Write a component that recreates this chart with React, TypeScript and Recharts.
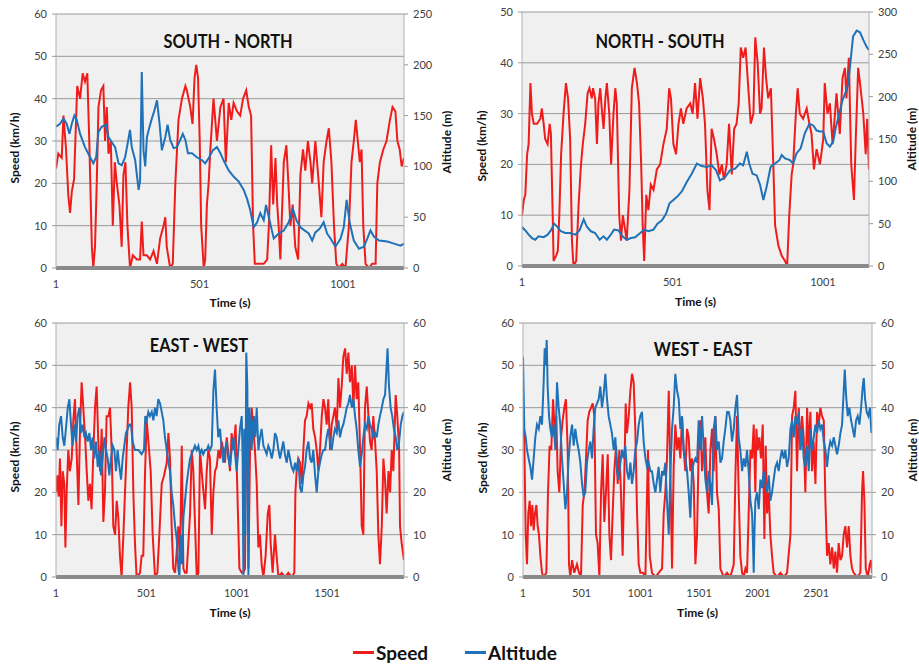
import React from 'react';
import { LineChart, Line, XAxis, YAxis, CartesianGrid } from 'recharts';

// ---------------- DATA (time in s, value) ----------------
const SN_SPEED: [number, number][] = [
[1,23.5],[9,27],[21,26],[27,36],[36,28],[44,17],[50,13],[56,18],[64,21],[71,35],[75,43],[85,40],[94,46],[102,44],[110,46],[117,30],[126,5],[131,0],[137,5],[143,20],[149,38],[158,42],[166,43],[172,30],[178,38],[184,27],[192,30],[199,10],[206,25],[213,20],[222,15],[230,5],[236,22],[243,25],[250,10],[259,0],[269,3],[283,2],[294,2],[300,11],[306,3],[318,3],[329,2],[341,4],[353,1],[364,7],[376,10],[382,12],[387,5],[399,0],[408,1],[417,20],[428,35],[440,40],[452,43],[457,42],[469,38],[477,34],[484,45],[490,48],[496,45],[502,30],[507,10],[516,0],[521,2],[527,15],[533,20],[539,28],[550,40],[562,30],[574,38],[585,40],[593,25],[603,39],[612,35],[620,39],[632,37],[643,36],[653,40],[664,42],[673,38],[681,36],[688,10],[694,1],[708,1],[725,1],[737,2],[743,10],[751,29],[758,15],[766,26],[772,15],[777,10],[783,2],[795,25],[804,29],[811,20],[818,10],[826,15],[835,5],[845,2],[853,22],[862,28],[870,23],[879,30],[888,25],[894,20],[905,30],[917,20],[926,12],[934,25],[944,30],[952,33],[961,25],[970,10],[978,1],[987,0],[999,1],[1010,0],[1022,10],[1031,25],[1039,30],[1046,35],[1053,30],[1060,25],[1066,28],[1072,10],[1080,1],[1092,0],[1103,1],[1115,1],[1121,20],[1130,25],[1142,28],[1153,30],[1165,35],[1174,38],[1184,37],[1191,30],[1199,28],[1206,24],[1214,26]
];
const SN_ALT: [number, number][] = [
[1,139],[15,142],[27,147],[38,142],[48,132],[56,142],[65,150],[73,146],[85,132],[102,119],[120,109],[131,103],[141,109],[149,134],[160,139],[176,141],[184,129],[195,124],[207,119],[219,103],[230,101],[242,109],[251,123],[259,136],[265,119],[277,106],[289,77],[294,86],[300,193],[306,116],[312,100],[318,129],[327,139],[335,147],[344,155],[353,165],[362,142],[370,116],[382,129],[390,141],[399,126],[411,118],[422,119],[434,126],[443,132],[452,126],[461,113],[475,113],[492,109],[510,106],[521,103],[533,108],[548,116],[562,119],[574,113],[585,106],[603,96],[620,90],[638,85],[655,77],[667,68],[678,57],[690,40],[702,45],[713,54],[725,47],[733,62],[743,50],[751,40],[760,29],[777,34],[795,37],[812,45],[827,58],[839,47],[853,40],[867,37],[882,34],[894,27],[905,35],[921,39],[934,45],[946,34],[958,29],[975,21],[993,29],[1004,40],[1014,67],[1025,44],[1039,27],[1057,19],[1074,21],[1086,29],[1097,37],[1109,31],[1127,27],[1156,26],[1179,24],[1202,22],[1214,24]
];
const NS_SPEED: [number, number][] = [
[1,10],[7,13],[12,14],[18,22],[23,24],[29,36],[34,30],[40,28],[51,28],[62,29],[67,31],[73,28],[78,25],[86,24],[93,28],[97,26],[103,10],[106,1],[114,2],[120,3],[125,10],[131,22],[139,30],[147,36],[154,33],[161,25],[167,5],[172,0],[181,1],[189,12],[197,20],[203,24],[211,28],[219,34],[225,35],[233,33],[237,35],[244,33],[250,24],[255,32],[261,35],[266,31],[272,27],[278,33],[283,36],[291,30],[297,20],[305,30],[311,35],[316,32],[324,10],[330,5],[336,10],[344,7],[349,5],[358,15],[366,35],[375,39],[383,36],[390,32],[397,20],[402,8],[407,1],[414,14],[421,11],[429,16],[438,15],[449,19],[460,20],[471,24],[482,27],[490,35],[496,33],[504,24],[513,22],[521,28],[529,31],[537,28],[548,31],[560,32],[568,30],[576,36],[584,29],[593,37],[602,33],[609,28],[617,15],[624,11],[631,27],[639,25],[648,22],[657,18],[665,20],[672,17],[681,20],[689,28],[698,18],[706,27],[714,28],[721,32],[728,43],[736,41],[744,43],[753,35],[761,28],[770,30],[776,45],[784,40],[792,30],[797,31],[805,43],[812,37],[819,33],[828,35],[836,20],[842,8],[853,4],[864,2],[875,1],[882,0],[889,10],[897,18],[902,20],[911,30],[917,35],[924,30],[935,29],[947,31],[956,28],[963,26],[971,19],[980,23],[991,20],[1002,25],[1007,36],[1016,30],[1024,32],[1033,24],[1041,30],[1046,34],[1057,26],[1066,37],[1074,39],[1079,33],[1087,41],[1095,20],[1104,13],[1110,25],[1118,39],[1126,35],[1135,30],[1143,22],[1148,29],[1154,19]
];
const NS_ALT: [number, number][] = [
[1,46],[12,42],[23,37],[34,33],[45,31],[56,35],[73,34],[86,37],[97,42],[108,50],[119,46],[130,41],[145,39],[161,39],[178,37],[192,42],[206,55],[217,46],[230,41],[244,39],[259,31],[272,35],[283,31],[296,37],[307,43],[322,42],[335,35],[349,31],[363,33],[377,34],[394,39],[407,43],[421,41],[438,43],[451,50],[466,54],[480,62],[491,74],[504,78],[517,82],[532,88],[548,99],[565,109],[582,121],[598,118],[615,117],[631,119],[646,113],[659,101],[676,105],[692,113],[709,115],[725,121],[736,119],[748,135],[756,121],[767,109],[781,107],[792,96],[803,78],[814,94],[827,117],[842,121],[856,125],[864,131],[875,127],[891,125],[902,121],[913,133],[927,139],[941,157],[956,168],[969,166],[980,160],[991,159],[1002,159],[1013,145],[1024,141],[1035,147],[1044,164],[1055,180],[1066,196],[1077,206],[1085,215],[1093,243],[1101,271],[1113,278],[1124,276],[1135,267],[1146,259],[1154,255]
];
const EW_SPEED: [number, number][] = [
[1,20],[8,24],[16,19],[23,28],[31,12],[38,25],[47,22],[53,7],[60,20],[69,30],[78,25],[88,28],[97,37],[106,42],[115,30],[125,17],[134,35],[143,46],[152,40],[162,33],[171,25],[180,18],[189,22],[198,16],[208,30],[217,40],[226,45],[235,32],[245,25],[254,35],[263,13],[272,20],[281,38],[291,38],[300,40],[309,30],[318,12],[328,10],[337,18],[346,14],[355,5],[364,0],[374,10],[383,20],[392,30],[401,40],[411,46],[420,40],[429,20],[438,8],[447,0],[466,1],[475,5],[484,5],[494,25],[503,37],[516,30],[525,25],[536,10],[549,0],[562,1],[573,10],[586,22],[599,24],[614,27],[623,34],[632,28],[641,12],[650,2],[660,1],[669,6],[678,12],[687,3],[697,31],[706,2],[715,1],[724,1],[743,15],[752,30],[761,25],[770,13],[780,0],[789,1],[798,30],[813,22],[826,16],[835,25],[844,30],[853,28],[863,10],[872,20],[881,25],[890,26],[900,30],[909,28],[918,32],[927,30],[936,27],[946,33],[964,25],[973,34],[983,30],[995,36],[1005,20],[1016,2],[1029,1],[1038,1],[1047,2],[1053,40],[1060,35],[1066,2],[1075,30],[1084,40],[1093,35],[1102,30],[1112,22],[1121,7],[1130,10],[1139,3],[1149,0],[1161,5],[1173,15],[1182,17],[1189,8],[1200,1],[1213,10],[1222,5],[1232,0],[1250,1],[1268,0],[1287,1],[1305,0],[1320,1],[1326,20],[1333,25],[1342,28],[1352,27],[1361,22],[1370,30],[1379,37],[1388,38],[1398,41],[1407,40],[1416,41],[1425,35],[1435,33],[1444,30],[1453,25],[1462,30],[1472,38],[1481,42],[1490,40],[1499,36],[1508,42],[1518,30],[1527,36],[1536,38],[1545,40],[1555,35],[1564,47],[1573,40],[1582,45],[1591,52],[1601,54],[1610,48],[1619,53],[1628,46],[1638,50],[1647,40],[1656,50],[1665,42],[1674,46],[1684,30],[1693,12],[1702,10],[1711,40],[1721,45],[1730,38],[1739,32],[1748,30],[1757,38],[1767,32],[1776,25],[1785,10],[1794,3],[1804,12],[1813,28],[1822,23],[1831,15],[1841,25],[1850,20],[1859,30],[1868,25],[1881,43],[1890,38],[1900,30],[1905,12],[1914,8],[1927,4]
];
const EW_ALT: [number, number][] = [
[1,33],[10,30],[19,36],[29,38],[38,33],[47,31],[56,35],[66,40],[75,42],[84,36],[93,31],[102,36],[112,32],[121,38],[130,40],[139,34],[149,36],[158,33],[167,34],[176,32],[186,34],[195,30],[204,33],[213,28],[222,32],[232,26],[241,30],[250,24],[259,28],[269,33],[278,30],[287,28],[296,24],[305,28],[315,31],[324,30],[333,25],[342,30],[352,26],[361,23],[370,28],[379,31],[388,34],[398,35],[407,36],[416,36],[425,32],[438,30],[457,30],[475,29],[488,30],[495,38],[503,37],[512,39],[521,38],[531,39],[540,37],[549,40],[558,38],[567,42],[577,41],[586,39],[595,37],[604,33],[614,30],[623,27],[632,25],[641,20],[650,17],[660,12],[669,9],[678,2],[684,0],[691,10],[698,3],[706,14],[715,18],[724,22],[733,25],[743,28],[752,29],[761,30],[770,31],[780,30],[789,31],[798,29],[807,30],[816,29],[826,30],[835,30],[844,31],[853,30],[863,31],[872,44],[881,49],[890,40],[899,33],[909,35],[918,30],[927,27],[936,30],[946,32],[955,28],[964,26],[973,30],[983,33],[992,29],[1001,25],[1010,30],[1019,35],[1029,38],[1034,28],[1038,0],[1043,35],[1049,10],[1054,53],[1060,45],[1066,0],[1071,40],[1079,35],[1084,30],[1090,36],[1097,38],[1104,33],[1112,40],[1121,30],[1130,33],[1139,35],[1149,31],[1158,30],[1167,29],[1176,31],[1185,30],[1195,28],[1204,30],[1213,34],[1222,33],[1232,30],[1241,28],[1250,30],[1259,32],[1268,29],[1278,27],[1287,30],[1296,28],[1305,26],[1315,25],[1324,27],[1333,25],[1342,28],[1352,21],[1361,20],[1370,24],[1379,26],[1388,30],[1398,32],[1407,28],[1416,27],[1425,30],[1435,24],[1444,20],[1453,25],[1462,27],[1472,29],[1481,30],[1490,30],[1499,33],[1508,35],[1518,32],[1527,30],[1536,33],[1545,35],[1555,34],[1564,37],[1573,33],[1582,35],[1591,36],[1601,38],[1610,40],[1619,41],[1628,43],[1638,40],[1647,42],[1656,38],[1665,35],[1674,30],[1684,26],[1693,29],[1702,33],[1711,36],[1721,35],[1730,38],[1739,36],[1748,35],[1757,33],[1767,34],[1776,33],[1785,36],[1794,38],[1804,40],[1813,42],[1822,43],[1831,50],[1836,54],[1844,45],[1853,40],[1862,38],[1871,35],[1881,33],[1890,30],[1900,32],[1909,36],[1918,38],[1927,39]
];
const WE_SPEED: [number, number][] = [
[1,38],[12,32],[24,10],[35,3],[46,15],[58,18],[69,12],[81,17],[92,11],[103,15],[115,17],[126,12],[137,10],[149,5],[163,1],[177,0],[200,1],[214,20],[228,31],[242,30],[257,42],[271,35],[285,38],[296,25],[311,20],[325,33],[339,37],[353,40],[367,42],[382,30],[393,3],[404,0],[419,4],[438,1],[461,3],[478,1],[495,0],[510,17],[524,20],[538,28],[552,37],[566,39],[581,40],[595,41],[609,38],[623,10],[637,8],[652,0],[666,20],[680,29],[694,13],[708,20],[723,29],[737,10],[751,4],[765,15],[779,25],[794,31],[808,22],[822,30],[836,20],[850,5],[865,25],[876,41],[887,34],[902,38],[916,44],[930,48],[944,46],[958,35],[973,15],[987,3],[1001,1],[1024,1],[1044,0],[1058,20],[1066,30],[1081,5],[1100,1],[1129,0],[1157,1],[1186,2],[1200,15],[1214,20],[1228,28],[1243,44],[1257,25],[1271,2],[1285,26],[1299,36],[1314,30],[1328,33],[1342,28],[1356,38],[1370,30],[1385,25],[1399,35],[1413,33],[1427,25],[1441,28],[1456,22],[1470,3],[1484,10],[1498,30],[1512,37],[1527,25],[1541,30],[1555,33],[1569,20],[1583,15],[1598,30],[1612,35],[1626,25],[1640,38],[1654,20],[1669,16],[1683,2],[1711,0],[1740,1],[1768,0],[1797,3],[1811,24],[1825,38],[1839,20],[1853,5],[1868,1],[1882,0],[1896,2],[1910,1],[1924,15],[1939,30],[1953,28],[1967,36],[1981,20],[1990,35],[2001,30],[2015,33],[2029,28],[2044,36],[2058,9],[2069,31],[2081,15],[2095,20],[2109,10],[2123,5],[2137,1],[2166,0],[2194,1],[2223,0],[2251,1],[2280,10],[2294,38],[2308,40],[2322,44],[2336,25],[2351,40],[2365,30],[2379,38],[2393,33],[2407,20],[2422,40],[2436,30],[2450,39],[2464,25],[2478,32],[2493,22],[2507,39],[2521,36],[2535,40],[2549,38],[2564,37],[2578,18],[2592,5],[2606,8],[2620,3],[2635,7],[2649,2],[2663,6],[2677,1],[2691,8],[2706,4],[2720,5],[2734,10],[2748,12],[2762,7],[2777,12],[2791,5],[2805,2],[2819,1],[2848,0],[2876,1],[2890,20],[2899,25],[2910,18],[2922,2],[2939,0],[2956,3],[2967,4],[2975,1]
];
const WE_ALT: [number, number][] = [
[1,52],[12,35],[24,33],[35,30],[49,28],[64,26],[78,23],[92,28],[106,33],[120,36],[135,35],[149,38],[163,36],[177,46],[186,54],[194,50],[203,56],[211,45],[223,38],[234,35],[248,33],[262,36],[277,30],[291,46],[305,40],[319,36],[333,28],[348,22],[362,16],[376,20],[390,28],[404,33],[419,36],[433,31],[447,35],[461,32],[475,30],[490,27],[504,22],[518,19],[532,20],[546,27],[561,30],[575,32],[589,28],[603,35],[617,40],[632,41],[646,42],[660,45],[674,40],[688,43],[703,48],[717,42],[731,38],[745,36],[759,34],[774,30],[788,33],[802,25],[816,23],[831,27],[845,30],[859,28],[873,31],[887,25],[902,23],[916,27],[930,22],[944,25],[958,30],[973,32],[987,36],[1001,38],[1015,39],[1029,32],[1044,28],[1058,26],[1072,27],[1086,25],[1100,25],[1115,22],[1129,20],[1143,23],[1157,26],[1171,20],[1186,25],[1200,24],[1214,27],[1228,18],[1243,10],[1257,25],[1271,35],[1285,40],[1299,48],[1314,44],[1328,42],[1342,35],[1356,38],[1370,30],[1385,28],[1399,25],[1413,20],[1427,14],[1441,25],[1456,27],[1470,28],[1484,27],[1498,37],[1512,30],[1527,38],[1541,30],[1555,23],[1569,20],[1583,25],[1598,22],[1612,17],[1626,35],[1640,38],[1654,30],[1669,32],[1683,27],[1697,28],[1711,32],[1725,35],[1740,39],[1754,39],[1768,37],[1782,32],[1797,35],[1811,40],[1825,43],[1839,33],[1853,30],[1868,25],[1882,28],[1896,26],[1910,30],[1924,25],[1939,18],[1953,15],[1961,8],[1967,1],[1973,10],[1981,18],[1995,20],[2010,16],[2024,23],[2038,21],[2052,25],[2066,22],[2081,20],[2095,24],[2109,18],[2123,20],[2137,23],[2152,26],[2166,27],[2180,25],[2194,28],[2208,30],[2223,28],[2237,30],[2251,26],[2265,28],[2280,35],[2294,37],[2308,33],[2322,38],[2336,36],[2351,39],[2365,30],[2379,35],[2393,28],[2407,26],[2422,31],[2436,25],[2450,35],[2464,30],[2478,33],[2493,36],[2507,34],[2521,37],[2535,35],[2549,36],[2564,32],[2578,30],[2592,26],[2606,30],[2620,32],[2635,31],[2649,33],[2663,31],[2677,29],[2691,31],[2706,34],[2720,36],[2734,44],[2743,49],[2754,43],[2768,38],[2782,40],[2797,37],[2811,35],[2825,33],[2839,37],[2853,38],[2868,36],[2882,40],[2896,45],[2905,47],[2916,42],[2930,39],[2944,38],[2958,40],[2970,34],[2975,36]
];

const SN_END = 1214;
const NS_END = 1154;
const EW_END = 1927;
const WE_END = 2975;

const TIME_TICKS_1001 = [1, 501, 1001];
const TIME_TICKS_1501 = [1, 501, 1001, 1501];
const TIME_TICKS_2501 = [1, 501, 1001, 1501, 2001, 2501];
const SPEED_TICKS_60 = [0, 10, 20, 30, 40, 50, 60];
const SPEED_TICKS_50 = [0, 10, 20, 30, 40, 50];
const ALT_TICKS_250 = [0, 50, 100, 150, 200, 250];
const ALT_TICKS_300 = [0, 50, 100, 150, 200, 250, 300];
const ALT_TICKS_60 = [0, 10, 20, 30, 40, 50, 60];

const TITLES = ['SOUTH - NORTH', 'NORTH - SOUTH', 'EAST - WEST', 'WEST - EAST'];
const LEGEND = ['Speed', 'Altitude'];

// ---------------- STYLE ----------------
const RED = '#f01c1c';
const BLUE = '#1f72b8';
const FONT = 'Lato, "Open Sans", sans-serif';

const rows = (pts: [number, number][]) => pts.map(([t, v]) => ({ t, v }));

type Cfg = {
  title: string; speed: [number, number][]; alt: [number, number][]; end: number;
  timeTicks: number[]; speedTicks: number[]; altTicks: number[];
  left: number; top: number; width: number; height: number;
  mTop: number; leftW: number; rightW: number; xH: number;
  titleX: number; titleY: number; speedLabelX: number; speedLabelY: number;
  altLabelX: number; altLabelY: number; timeLabelY: number;
};

const PANELS: Cfg[] = [
  { title: TITLES[0], speed: SN_SPEED, alt: SN_ALT, end: SN_END, timeTicks: TIME_TICKS_1001,
    speedTicks: SPEED_TICKS_60, altTicks: ALT_TICKS_250,
    left: 0, top: 0, width: 460, height: 310, mTop: 14, leftW: 56, rightW: 56, xH: 42,
    titleX: 228, titleY: 40, speedLabelX: 15, speedLabelY: 148, altLabelX: 447, altLabelY: 142, timeLabelY: 303 },
  { title: TITLES[1], speed: NS_SPEED, alt: NS_ALT, end: NS_END, timeTicks: TIME_TICKS_1001,
    speedTicks: SPEED_TICKS_50, altTicks: ALT_TICKS_300,
    left: 460, top: 0, width: 459, height: 310, mTop: 12, leftW: 62, rightW: 50, xH: 44,
    titleX: 660, titleY: 40, speedLabelX: 482, speedLabelY: 146, altLabelX: 912, altLabelY: 139, timeLabelY: 302 },
  { title: TITLES[2], speed: EW_SPEED, alt: EW_ALT, end: EW_END, timeTicks: TIME_TICKS_1501,
    speedTicks: SPEED_TICKS_60, altTicks: ALT_TICKS_60,
    left: 0, top: 310, width: 460, height: 320, mTop: 13, leftW: 56, rightW: 56, xH: 53,
    titleX: 199, titleY: 344, speedLabelX: 15, speedLabelY: 457, altLabelX: 447, altLabelY: 450, timeLabelY: 613 },
  { title: TITLES[3], speed: WE_SPEED, alt: WE_ALT, end: WE_END, timeTicks: TIME_TICKS_2501,
    speedTicks: SPEED_TICKS_60, altTicks: ALT_TICKS_60,
    left: 460, top: 310, width: 459, height: 320, mTop: 13, leftW: 63, rightW: 47, xH: 53,
    titleX: 703, titleY: 348, speedLabelX: 483, speedLabelY: 458, altLabelX: 913, altLabelY: 450, timeLabelY: 613 },
];

const tickStyle = { fontSize: 11, fill: '#404040', fontFamily: FONT };

function Rotated({ x, y, text }: { x: number; y: number; text: string }) {
  return (
    <div style={{ position: 'absolute', left: x, top: y, transform: 'translate(-50%, -50%) rotate(-90deg)',
      whiteSpace: 'nowrap', fontWeight: 700, fontSize: 12, color: '#111', fontFamily: FONT, lineHeight: 1 }}>
      {text}
    </div>
  );
}

function Panel({ c }: { c: Cfg }) {
  const plotL = c.left + c.leftW;
  const plotR = c.left + c.width - c.rightW;
  const speedMax = c.speedTicks[c.speedTicks.length - 1];
  const altMax = c.altTicks[c.altTicks.length - 1];
  return (
    <>
      <div style={{ position: 'absolute', left: c.left, top: c.top }}>
        <LineChart width={c.width} height={c.height} margin={{ top: c.mTop, right: 0, bottom: 0, left: 0 }}>
          <CartesianGrid yAxisId="s" vertical={false} fill="#f0f0f0" stroke="#9a9a9a" strokeWidth={1} />
          <XAxis dataKey="t" type="number" domain={[1, c.end]} ticks={c.timeTicks} interval={0}
            allowDataOverflow height={c.xH} tickLine={false} tickSize={0} tickMargin={12}
            axisLine={{ stroke: '#8a8a8a', strokeWidth: 4 }} tick={tickStyle} />
          <YAxis yAxisId="s" orientation="left" domain={[0, speedMax]} ticks={c.speedTicks} interval={0}
            width={c.leftW} tickSize={4} tickMargin={5} tickLine={{ stroke: '#9a9a9a' }}
            axisLine={{ stroke: '#b0b0b0' }} tick={tickStyle} allowDataOverflow />
          <YAxis yAxisId="a" orientation="right" domain={[0, altMax]} ticks={c.altTicks} interval={0}
            width={c.rightW} tickSize={4} tickMargin={5} tickLine={{ stroke: '#9a9a9a' }}
            axisLine={{ stroke: '#b0b0b0' }} tick={tickStyle} allowDataOverflow />
          <Line yAxisId="s" data={rows(c.speed)} dataKey="v" type="linear" stroke={RED} strokeWidth={2}
            dot={false} activeDot={false} isAnimationActive={false} />
          <Line yAxisId="a" data={rows(c.alt)} dataKey="v" type="linear" stroke={BLUE} strokeWidth={2}
            dot={false} activeDot={false} isAnimationActive={false} />
        </LineChart>
      </div>
      <div style={{ position: 'absolute', left: c.titleX, top: c.titleY, transform: 'translate(-50%, -50%) scaleX(0.86)',
        whiteSpace: 'nowrap', fontWeight: 700, fontSize: 19, color: '#111', fontFamily: FONT, lineHeight: 1 }}>
        {c.title}
      </div>
      <Rotated x={c.speedLabelX} y={c.speedLabelY} text="Speed (km/h)" />
      <Rotated x={c.altLabelX} y={c.altLabelY} text="Altitude (m)" />
      <div style={{ position: 'absolute', left: (plotL + plotR) / 2, top: c.timeLabelY, transform: 'translate(-50%, -50%)',
        whiteSpace: 'nowrap', fontWeight: 700, fontSize: 12, color: '#111', fontFamily: FONT, lineHeight: 1 }}>
        Time (s)
      </div>
    </>
  );
}

export default function App() {
  return (
    <div style={{ position: 'absolute', left: 0, top: 0, width: 919, height: 668, background: '#fff', fontFamily: FONT, overflow: 'hidden' }}>
      {PANELS.map((c) => <Panel key={c.title} c={c} />)}
      <div style={{ position: 'absolute', left: 353, top: 643, display: 'flex', alignItems: 'center', fontFamily: FONT,
        fontWeight: 700, fontSize: 19, color: '#111', lineHeight: 1 }}>
        <span style={{ display: 'inline-block', width: 21, height: 3, background: RED, marginRight: 2 }} />
        <span style={{ marginRight: 37 }}>{LEGEND[0]}</span>
        <span style={{ display: 'inline-block', width: 21, height: 3, background: BLUE, marginRight: 2 }} />
        <span>{LEGEND[1]}</span>
      </div>
    </div>
  );
}
